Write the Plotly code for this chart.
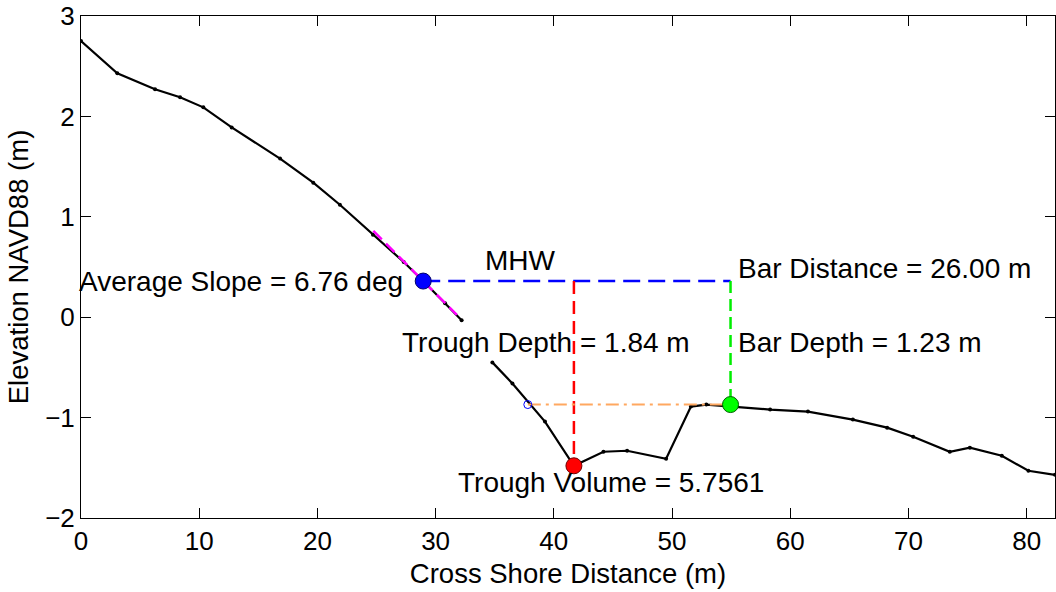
import math
import plotly.graph_objects as go

# Beach profile survey: cross-shore distance (m) vs elevation NAVD88 (m)
profile_x = [0, 3.07, 6.26, 8.38, 10.35, 12.75, 16.84, 19.65, 21.9, 24.7, 27.3, 28.95,
             30.8, 32.2, None, 34.8, 36.5, 39.25, 41.7, 44.2, 46.2, 49.5, 51.6, 52.9,
             58.3, 61.5, 65.3, 68.2, 70.4, 73.5, 75.2, 77.9, 80.15, 82.4]
profile_y = [2.75, 2.43, 2.27, 2.19, 2.09, 1.89, 1.58, 1.34, 1.12, 0.82, 0.55, 0.36,
             0.14, -0.03, None, -0.45, -0.66, -1.04, -1.48, -1.34, -1.33, -1.41, -0.89, -0.87,
             -0.92, -0.94, -1.02, -1.10, -1.19, -1.34, -1.30, -1.38, -1.53, -1.57]

# Morphometrics
mhw_elev = 0.36          # mean high water elevation (m)
mhw_x = 28.95            # shoreline position at MHW (m)
avg_slope_deg = 6.76     # foreshore slope (deg)
slope_extent = [24.73, 31.8]
bar_distance = 26.00     # bar crest distance from MHW shoreline (m)
bar_depth = 1.23         # bar crest depth below MHW (m)
trough_x = 41.7
trough_depth = 1.84      # trough depth below MHW (m)
trough_volume = 5.7561
trough_edge_x = 37.8     # shoreward edge of trough at bar crest elevation

bar_x = mhw_x + bar_distance
bar_y = mhw_elev - bar_depth
trough_y = mhw_elev - trough_depth
slope_y = [mhw_elev - math.tan(math.radians(avg_slope_deg)) * (x - mhw_x) for x in slope_extent]

FONT = "Liberation Sans, Arial, Helvetica, sans-serif"

fig = go.Figure()

# profile
fig.add_trace(go.Scatter(x=profile_x, y=profile_y, mode="lines+markers",
                         line=dict(color="black", width=2.2),
                         marker=dict(color="black", size=4), connectgaps=False))
# average slope fit
fig.add_trace(go.Scatter(x=slope_extent, y=slope_y, mode="lines",
                         line=dict(color="#ff00ff", width=2.5, dash="12px,6px")))
# MHW level out to the bar
fig.add_trace(go.Scatter(x=[mhw_x, bar_x], y=[mhw_elev, mhw_elev], mode="lines",
                         line=dict(color="#0000ff", width=2.5, dash="17px,8px")))
# trough depth
fig.add_trace(go.Scatter(x=[trough_x, trough_x], y=[mhw_elev, trough_y], mode="lines",
                         line=dict(color="#ff0000", width=2.5, dash="13px,7px")))
# bar depth
fig.add_trace(go.Scatter(x=[bar_x, bar_x], y=[mhw_elev, bar_y], mode="lines",
                         line=dict(color="#00ee00", width=2.5, dash="12px,6px")))
# bar crest elevation across trough
fig.add_trace(go.Scatter(x=[trough_edge_x, bar_x], y=[bar_y, bar_y], mode="lines",
                         line=dict(color="#ffa860", width=2, dash="13px,5px,3px,5px")))
# trough shoreward edge
fig.add_trace(go.Scatter(x=[trough_edge_x], y=[bar_y], mode="markers",
                         marker=dict(symbol="circle-open", color="#0000ff", size=8,
                                     line=dict(width=1))))
# key points
fig.add_trace(go.Scatter(x=[mhw_x], y=[mhw_elev], mode="markers",
                         marker=dict(color="#0000ff", size=16, line=dict(color="#00006a", width=1))))
fig.add_trace(go.Scatter(x=[trough_x], y=[trough_y], mode="markers",
                         marker=dict(color="#ff0000", size=16, line=dict(color="#700000", width=1))))
fig.add_trace(go.Scatter(x=[bar_x], y=[bar_y], mode="markers",
                         marker=dict(color="#00ff00", size=16, line=dict(color="#006000", width=1))))

tfont = dict(family=FONT, size=28, color="black")
annos = [
    dict(x=27.4, y=mhw_elev, text=f"Average Slope = {avg_slope_deg:.2f} deg", xanchor="right"),
    dict(x=37.2, y=0.56, text="MHW", xanchor="center"),
    dict(x=55.45, y=0.49, text=f"Bar Distance = {bar_distance:.2f} m", xanchor="left"),
    dict(x=55.45, y=-0.25, text=f"Bar Depth = {bar_depth:.2f} m", xanchor="left"),
    dict(x=39.3, y=-0.25, text=f"Trough Depth = {trough_depth:.2f} m", xanchor="center"),
    dict(x=44.85, y=-1.65, text=f"Trough Volume = {trough_volume:.4f}", xanchor="center"),
]
for a in annos:
    fig.add_annotation(xref="x", yref="y", yanchor="middle", showarrow=False,
                       font=tfont, **a)

axis_common = dict(showline=True, linecolor="black", linewidth=1, mirror="ticks",
                   ticks="inside", ticklen=10, tickcolor="black", tickwidth=1,
                   showgrid=False, zeroline=False,
                   tickfont=dict(family=FONT, size=26, color="black"))

fig.update_layout(
    width=1056, height=592,
    margin=dict(l=81, r=1, t=16, b=74),
    paper_bgcolor="white", plot_bgcolor="white",
    showlegend=False,
    xaxis=dict(range=[0, 82.4], tickvals=[0, 10, 20, 30, 40, 50, 60, 70, 80],
               title=dict(text="Cross Shore Distance (m)",
                          font=dict(family=FONT, size=27.5, color="black"), standoff=8),
               **axis_common),
    yaxis=dict(range=[-2, 3], tickvals=[-2, -1, 0, 1, 2, 3],
               title=dict(text="Elevation NAVD88 (m)",
                          font=dict(family=FONT, size=27.5, color="black"), standoff=8),
               **axis_common),
)

fig.write_html("out.html")
